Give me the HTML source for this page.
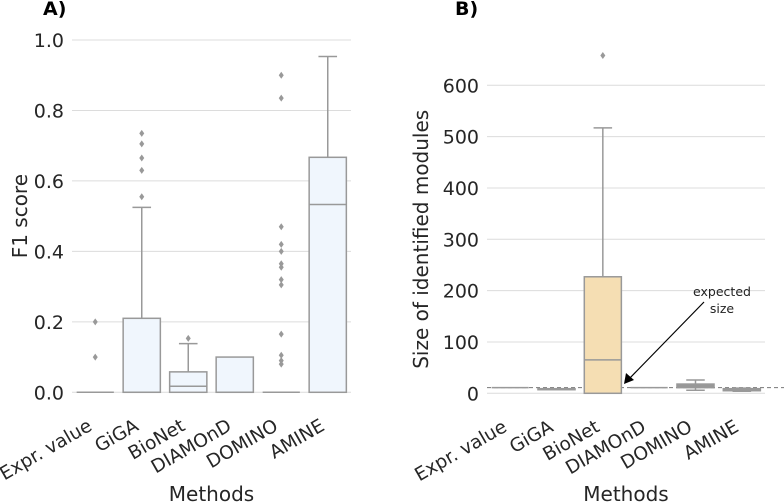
<!DOCTYPE html>
<html><head><meta charset="utf-8"><style>
body{margin:0;background:#fff}
svg{display:block;font-family:"DejaVu Sans","Liberation Sans",sans-serif}
</style></head><body>
<svg id="c" width="784" height="503"></svg>
<script>
const categories=["Expr. value","GiGA","BioNet","DIAMOnD","DOMINO","AMINE"];
// panel A: [whiskerLow,q1,median,q3,whiskerHigh]
const f1Boxes=[[0,0,0,0,0],[0,0,0,0.21,0.525],[0,0,0.017,0.058,0.138],[0,0,0,0.1,0.1],[0,0,0,0,0],[0,0,0.533,0.667,0.953]];
const f1Outliers=[[0.1,0.2],[0.555,0.63,0.665,0.705,0.735],[0.153],[],[0.9,0.835,0.47,0.42,0.40,0.365,0.355,0.32,0.305,0.165,0.105,0.09,0.08],[]];
const f1Ticks=[0,0.2,0.4,0.6,0.8,1.0];
const f1TickLabels=["0.0","0.2","0.4","0.6","0.8","1.0"];
// panel B
const sizeBoxes=[[11,11,11,11,11],[7,7,8,9,9],[0,0,65,227,517],[11,11,11,11,11],[6,11,14,18,26],[4,5,7,9,10]];
const sizeOutliers=[[],[],[658],[],[],[]];
const sizeTicks=[0,100,200,300,400,500,600];
const expectedSize=11;

const NS="http://www.w3.org/2000/svg";
const svg=document.getElementById('c');
function mk(tag,attrs,parent,text){const e=document.createElementNS(NS,tag);for(const k in attrs)e.setAttribute(k,attrs[k]);if(text!==undefined)e.textContent=text;(parent||svg).appendChild(e);return e;}

function panel(o){
  const g=mk('g',{});
  
  
  const y=v=>o.y0+(v-o.vmin)/(o.vmax-o.vmin)*(o.y1-o.y0);
  const bw=(o.x1-o.x0)/categories.length;
  const x=i=>o.x0+bw*(i+0.5);
  o.ticks.forEach((t,i)=>{
    const gl=mk('line',{x1:o.x0,x2:o.x1,y1:y(t),y2:y(t),stroke:'#dcdcdc','stroke-width':1},g);
    
    
    const tl=mk('text',{x:o.x0-8,y:y(t)+7,'text-anchor':'end','font-size':19,fill:'#262626'},g,o.labels[i]);
    
    
  });
  const yt=mk('text',{transform:`translate(${o.ytx},${(o.y0+o.y1)/2}) rotate(-90)`,'text-anchor':'middle','font-size':20,fill:'#262626'},g,o.ytitle);
  
  
  if(o.expected!==undefined){
    const dl=mk('line',{x1:o.x0,x2:784,y1:y(o.expected),y2:y(o.expected),stroke:'#777','stroke-width':1,'stroke-dasharray':'4,3'},g);
    
    
  }
  o.boxes.forEach((b,i)=>{
    const cx=x(i),w=bw*0.8,c='#999';
    const fill=o.fills[i];
    const bg=mk('g',{},g);
    
    
    mk('line',{x1:cx,x2:cx,y1:y(b[0]),y2:y(b[1]),stroke:c,'stroke-width':1.5},bg);
    mk('line',{x1:cx,x2:cx,y1:y(b[3]),y2:y(b[4]),stroke:c,'stroke-width':1.5},bg);
    if(b[4]>b[3])mk('line',{x1:cx-w/4,x2:cx+w/4,y1:y(b[4]),y2:y(b[4]),stroke:c,'stroke-width':1.5},bg);
    if(b[0]<b[1])mk('line',{x1:cx-w/4,x2:cx+w/4,y1:y(b[0]),y2:y(b[0]),stroke:c,'stroke-width':1.5},bg);
    mk('rect',{x:cx-w/2,y:y(b[3]),width:w,height:Math.max(0,y(b[1])-y(b[3])),fill:fill,stroke:c,'stroke-width':1.5},bg);
    mk('line',{x1:cx-w/2,x2:cx+w/2,y1:y(b[2]),y2:y(b[2]),stroke:c,'stroke-width':1.5},bg);
    o.outliers[i].forEach(v=>{
      const p=mk('path',{d:`M${cx},${y(v)-3.5}L${cx+2.5},${y(v)}L${cx},${y(v)+3.5}L${cx-2.5},${y(v)}Z`,fill:'#999'},bg);
      
      
    });
    const xl=mk('text',{transform:`translate(${cx-2},${o.y0+37}) rotate(-30)`,'text-anchor':'end','font-size':18.5,fill:'#262626'},g,categories[i]);
    
    
  });
  const xt=mk('text',{x:(o.x0+o.x1)/2,y:501,'text-anchor':'middle','font-size':20,fill:'#262626'},g,'Methods');
  
  
  const pl=mk('text',{x:o.plx,y:15,'font-size':19,'font-weight':'bold',fill:'#000'},g,o.plabel);
  
  
  return y;
}
panel({name:'panel-a-f1',x0:72,x1:351,y0:392.3,y1:40,vmin:0,vmax:1,ticks:f1Ticks,labels:f1TickLabels,boxes:f1Boxes,outliers:f1Outliers,
  fills:categories.map(()=> '#f0f6fd'),ytitle:'F1 score',ytx:27,plabel:'A)',plx:43});
const yB=panel({name:'panel-b-size',x0:487,x1:765,y0:393.3,y1:85.3,vmin:0,vmax:600,ticks:sizeTicks,labels:sizeTicks.map(String),boxes:sizeBoxes,outliers:sizeOutliers,
  fills:['#999','#999','#f5deb3','#999','#999','#999'],ytitle:'Size of identified modules',ytx:428,plabel:'B)',plx:455,expected:expectedSize});
const ann=mk('g',{});


mk('text',{x:722,y:296,'text-anchor':'middle','font-size':12.5,fill:'#222'},ann,'expected');
mk('text',{x:722,y:313,'text-anchor':'middle','font-size':12.5,fill:'#222'},ann,'size');
mk('line',{x1:704,y1:302,x2:628,y2:380,stroke:'#000','stroke-width':1.2},ann);
mk('path',{d:'M624,384 L626,373 L634,380 Z',fill:'#000'},ann);
</script>
</body></html>
